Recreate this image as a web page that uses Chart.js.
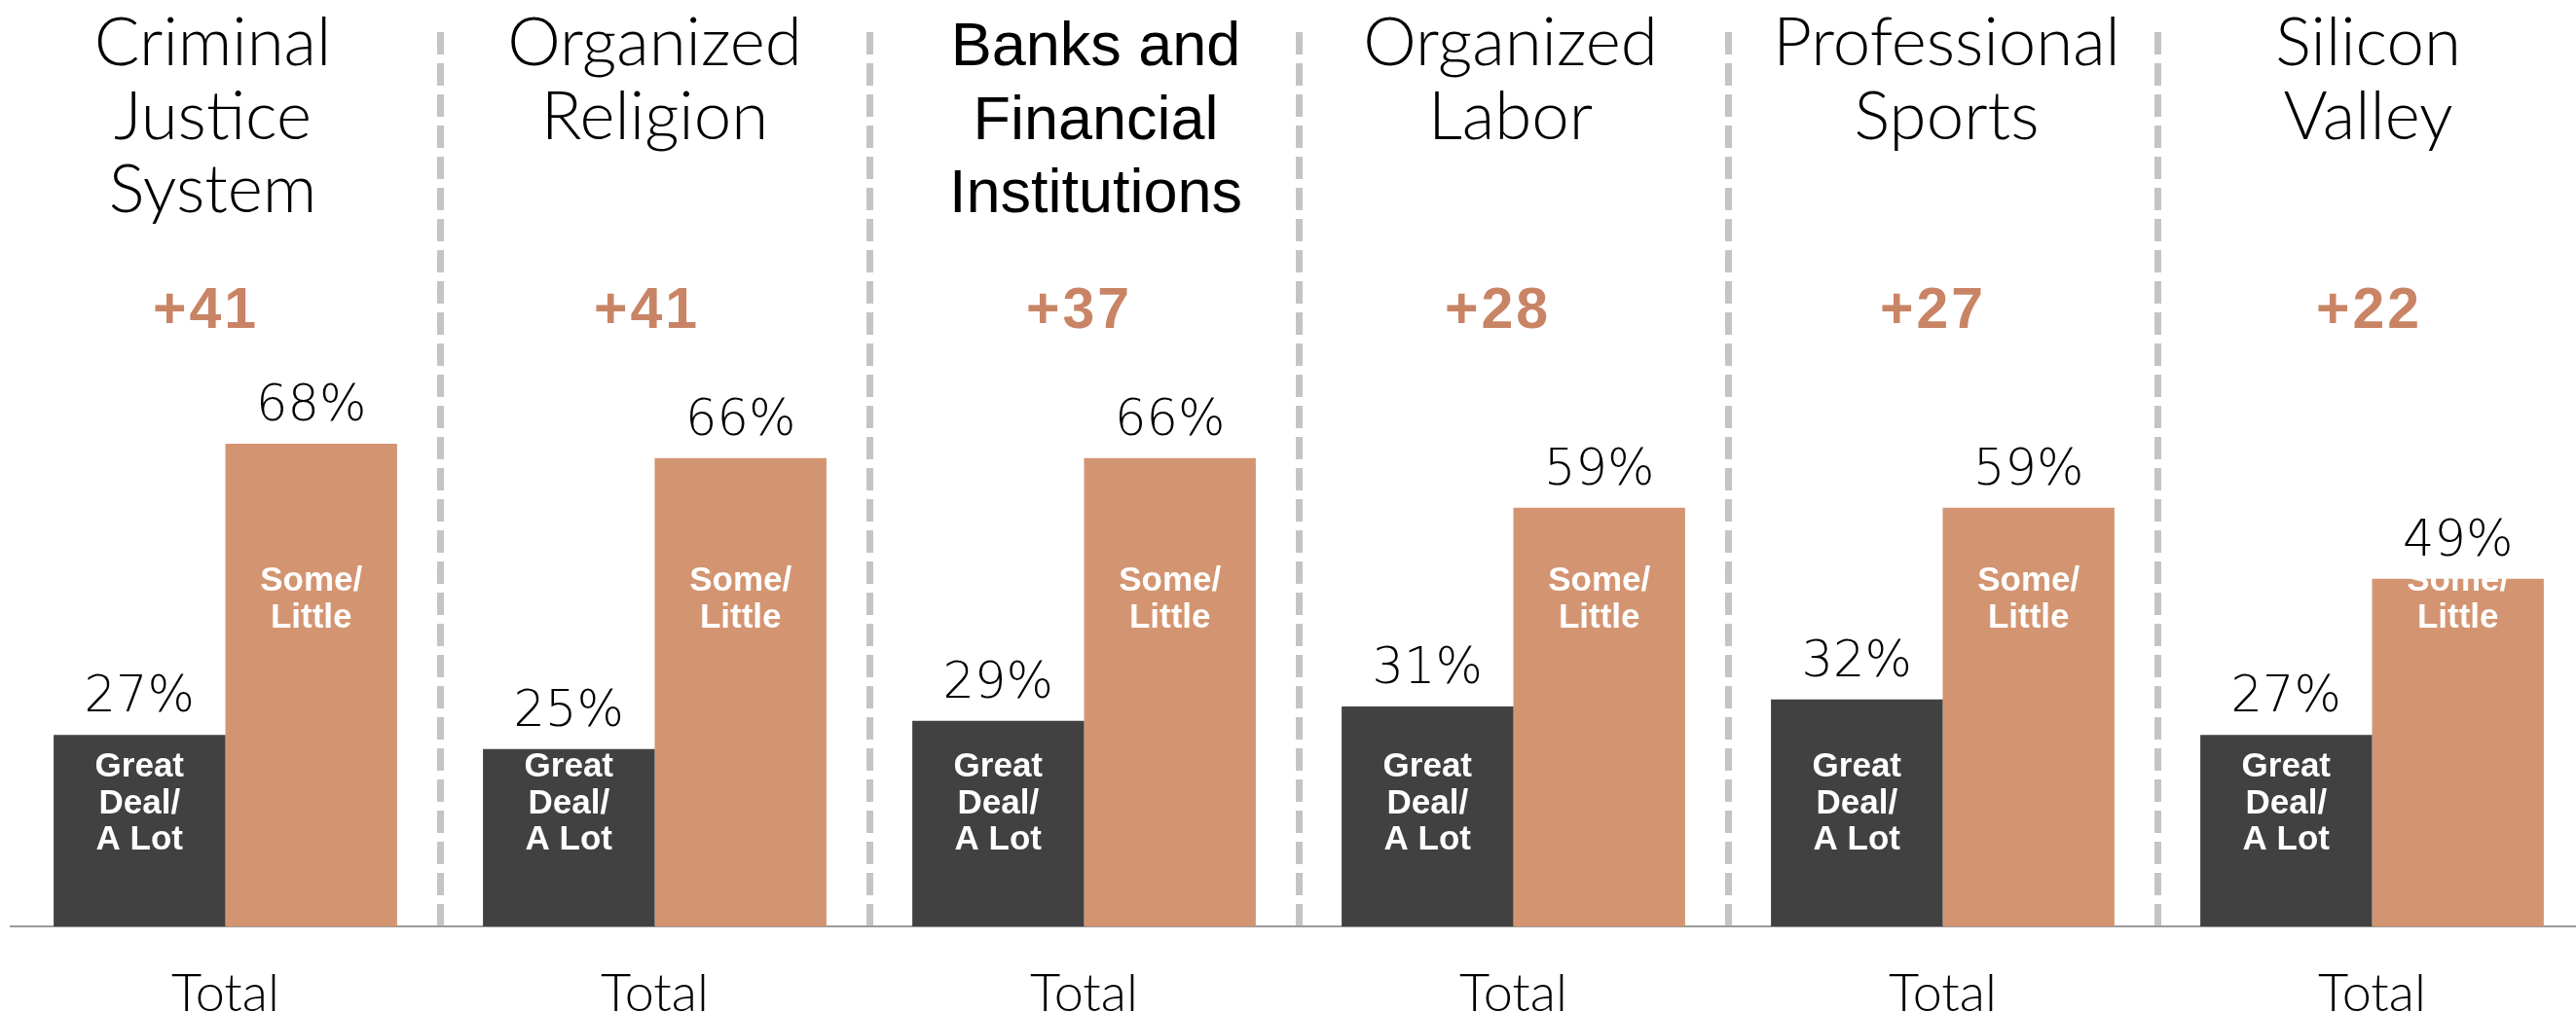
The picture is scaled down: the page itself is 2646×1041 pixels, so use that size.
<!DOCTYPE html>
<html lang="en">
<head>
  <meta charset="UTF-8">
  <title>Confidence in Institutions - Total</title>
  <script src="https://cdn.jsdelivr.net/npm/chart.js"></script>
  <style>
    html, body { margin: 0; padding: 0; background: #fff; overflow: hidden; }
    #wrap { width: 2660px; height: 1091px; }
  </style>
</head>
<body>

<div id="wrap"><canvas id="grafik"></canvas></div>

<script>
  // data
  const institutions = [
    ['Criminal', 'Justice', 'System'],
    ['Organized', 'Religion'],
    ['Banks and', 'Financial', 'Institutions'],
    ['Organized', 'Labor'],
    ['Professional', 'Sports'],
    ['Silicon', 'Valley']
  ];
  const groupLabels = ['Total', 'Total', 'Total', 'Total', 'Total', 'Total'];
  const greatDeal = [27, 25, 29, 31, 32, 27];
  const someLittle = [68, 66, 66, 59, 59, 49];
  const netGap = [41, 41, 37, 28, 27, 22];

  const darkText = ['Great', 'Deal/', 'A Lot'];
  const orangeText = ['Some/', 'Little'];

  // small horizontal nudges of the text blocks (as in the original slide)
  const titleShift = [-13, 0, 12, -3, 4, -4];
  const gapShift = [-20, -8, -5, -16, -10, -3];

  const lightFont = '300 69px Lato, "Liberation Sans", sans-serif';
  const banksFont = '63px "Liberation Sans", Arial, sans-serif';

  // titles, gaps and bar labels
  const labelPlugin = {
    id: 'labelPlugin',
    afterDatasetsDraw(chart) {
      const { ctx, chartArea, scales: { x } } = chart;
      ctx.save();
      ctx.textAlign = 'center';
      ctx.textBaseline = 'alphabetic';

      institutions.forEach(function(lines, i) {
        const cx = x.getPixelForValue(i);
        ctx.fillStyle = '#000';
        ctx.font = i === 2 ? banksFont : lightFont;
        lines.forEach(function(t, j) {
          ctx.fillText(t, cx + titleShift[i], chartArea.top + 34 + j * 75.5);
        });
        ctx.fillStyle = '#c98466';
        ctx.font = 'bold 59px "Liberation Sans", Arial, sans-serif';
        ctx.letterSpacing = '3px';
        ctx.fillText('+' + netGap[i], cx + gapShift[i], chartArea.top + 304);
        ctx.letterSpacing = '0px';
      });

      // white text inside the bars (fixed height)
      ctx.fillStyle = '#fff';
      ctx.font = 'bold 35px "Liberation Sans", Arial, sans-serif';
      chart.getDatasetMeta(0).data.forEach(function(bar) {
        darkText.forEach(function(t, j) {
          ctx.fillText(t, bar.x, chartArea.bottom - 154 + j * 37.5);
        });
      });
      chart.getDatasetMeta(1).data.forEach(function(bar) {
        orangeText.forEach(function(t, j) {
          ctx.fillText(t, bar.x, chartArea.bottom - 345 + j * 37.5);
        });
      });

      // percentages above bars
      ctx.fillStyle = '#000';
      ctx.font = '200 51px "DejaVu Sans", Lato, sans-serif';
      [0, 1].forEach(function(d) {
        const values = chart.data.datasets[d].data;
        chart.getDatasetMeta(d).data.forEach(function(bar, i) {
          ctx.fillText(values[i] + '%', bar.x, bar.y - 24);
        });
      });
      ctx.restore();
    }
  };

  const ctx = document.getElementById('grafik').getContext('2d');
  new Chart(ctx, {
    type: 'bar',
    data: {
      labels: groupLabels,
      datasets: [
        {
          label: 'Great Deal/A Lot',
          data: greatDeal,
          backgroundColor: '#414141',
          categoryPercentage: 0.8,
          barPercentage: 1.0
        },
        {
          label: 'Some/Little',
          data: someLittle,
          backgroundColor: '#d39571',
          categoryPercentage: 0.8,
          barPercentage: 1.0
        }
      ]
    },
    options: {
      responsive: true,
      maintainAspectRatio: false,
      animation: false,
      layout: { padding: { left: 11, right: 3, top: 33, bottom: 0 } },
      plugins: {
        legend: { display: false },
        tooltip: { enabled: false }
      },
      scales: {
        x: {
          grid: {
            offset: true,
            drawTicks: false,
            lineWidth: 7,
            color: function(c) {
              return (c.index === 0 || c.index === groupLabels.length) ? 'rgba(0,0,0,0)' : '#c4c4c4';
            }
          },
          border: { display: true, color: '#9a9a9a', width: 2, dash: [23, 9] },
          ticks: {
            color: '#000',
            padding: 37,
            maxRotation: 0,
            autoSkip: false,
            font: { family: 'Lato, "Liberation Sans", sans-serif', size: 54, weight: 300, lineHeight: 1.2 }
          }
        },
        y: {
          display: false,
          min: 0,
          max: 126
        }
      }
    },
    plugins: [labelPlugin]
  });
</script>

</body>
</html>
